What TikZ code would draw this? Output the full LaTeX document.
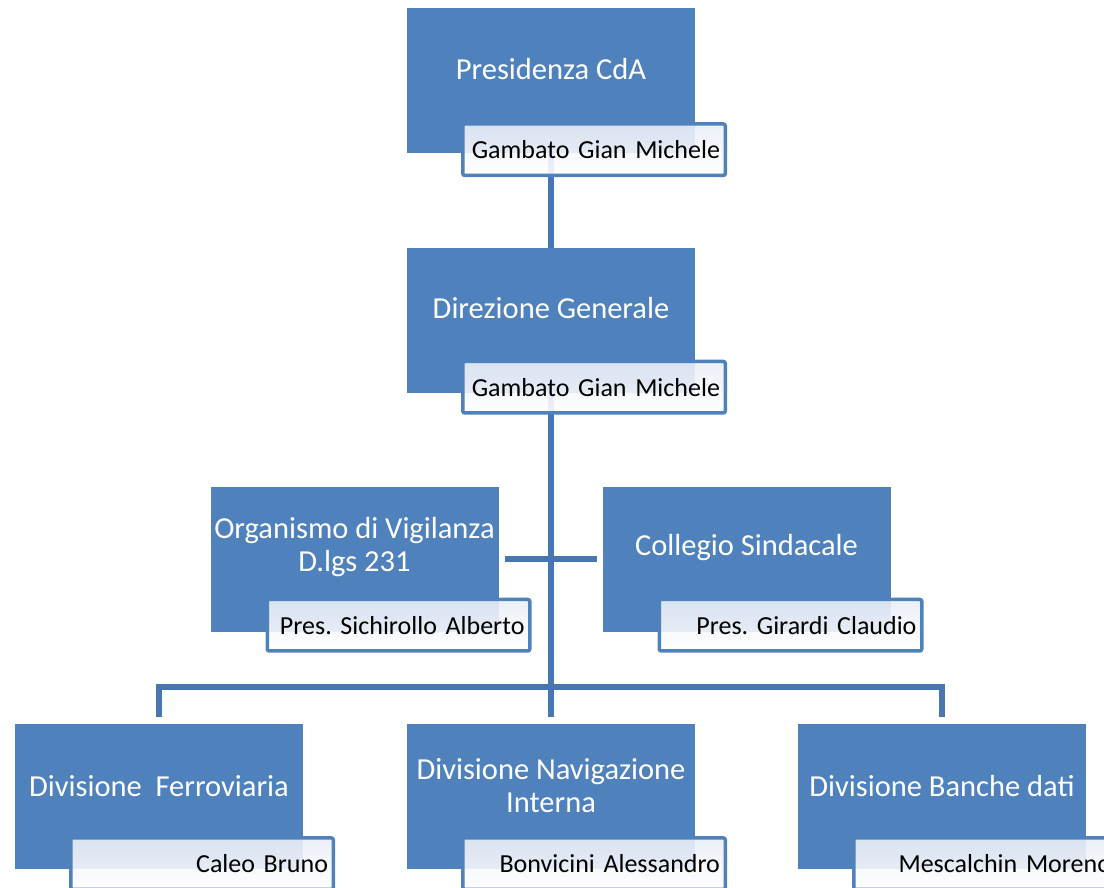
\documentclass[tikz,border=0pt]{standalone}
\usepackage{fontspec}
\setmainfont{Carlito}
\usetikzlibrary{calc}
\frenchspacing

\definecolor{unitblue}{RGB}{79,129,189}
\definecolor{linkblue}{RGB}{72,118,176}
\definecolor{namebg}{RGB}{233,238,247}

\begin{document}
\begin{tikzpicture}[
    x=1pt, y=-1pt,
    link/.style={draw=linkblue, line width=5.5pt},
    unit/.style={rectangle, fill=unitblue, minimum width=288pt, minimum height=145pt, inner sep=0pt},
    unit text/.style={text=white, font=\fontsize{30.5}{33}\selectfont, align=center},
    name box/.style={rectangle, draw=unitblue, line width=3.5pt, rounded corners=2pt,
        top color=namebg, bottom color=white, fill opacity=0.9, text opacity=1,
        minimum width=262.5pt, minimum height=51.5pt, inner sep=0pt,
        text width=252pt, align=right, font=\fontsize{26}{28}\selectfont}
]
\useasboundingbox (0,0) rectangle (1104,888);

% Units
\node[unit] (pres) at (551, 80.5) {};
\node[unit text] (presl) at ($(pres.center)+(0,-11)$) {Presidenza CdA};

\node[unit] (dir) at (551, 320.5) {};
\node[unit text] (dirl) at ($(dir.center)+(0,-12)$) {Direzione Generale};

\node[unit] (org) at (354.5, 559) {};
\node[unit text] (orgl) at ($(org.center)+(0,-12)$) {Organismo di Vigilanza\\D.lgs 231};

\node[unit] (col) at (746.5, 559) {};
\node[unit text] (coll) at ($(col.center)+(0,-11)$) {Collegio Sindacale};

\node[unit] (fer) at (159, 796) {};
\node[unit text] (ferl) at ($(fer.center)+(0,-10)$) {Divisione\ \ Ferroviaria};

\node[unit] (nav) at (551, 796) {};
\node[unit text] (navl) at ($(nav.center)+(0,-10)$) {Divisione Navigazione\\Interna};

\node[unit] (ban) at (942, 796) {};
\node[unit text] (banl) at ($(ban.center)+(0,-10)$) {Divisione Banche dati};

% Connectors
\coordinate (bar) at (551, 687);
\draw[link] (pres.south) -- (dir.north);
\draw[link, shorten >=6pt] (dir.south) -- (nav.north);
\draw[link, shorten <=6pt, shorten >=5pt] (org.east) -- (col.west);
\draw[link, shorten <=6pt, shorten >=6pt] (fer.north) -- (bar -| fer.north) -- (bar -| ban.north) -- (ban.north);

% Names
\node[name box] (presn) at ($(pres.south)+(43,-3.5)$) {Gambato Gian Michele};
\node[name box] (dirn) at ($(dir.south)+(43,-6)$) {Gambato Gian Michele};
\node[name box] (orgn) at ($(org.south)+(44,-6.5)$) {Pres. Sichirollo Alberto};
\node[name box] (coln) at ($(col.south)+(44,-6.5)$) {Pres. Girardi Claudio};
\node[name box] (fern) at ($(fer.south)+(43,-5)$) {Caleo Bruno};
\node[name box] (navn) at ($(nav.south)+(43,-5)$) {Bonvicini Alessandro};
\node[name box] (bann) at ($(ban.south)+(43,-5)$) {Mescalchin Moreno};

\end{tikzpicture}
\end{document}
